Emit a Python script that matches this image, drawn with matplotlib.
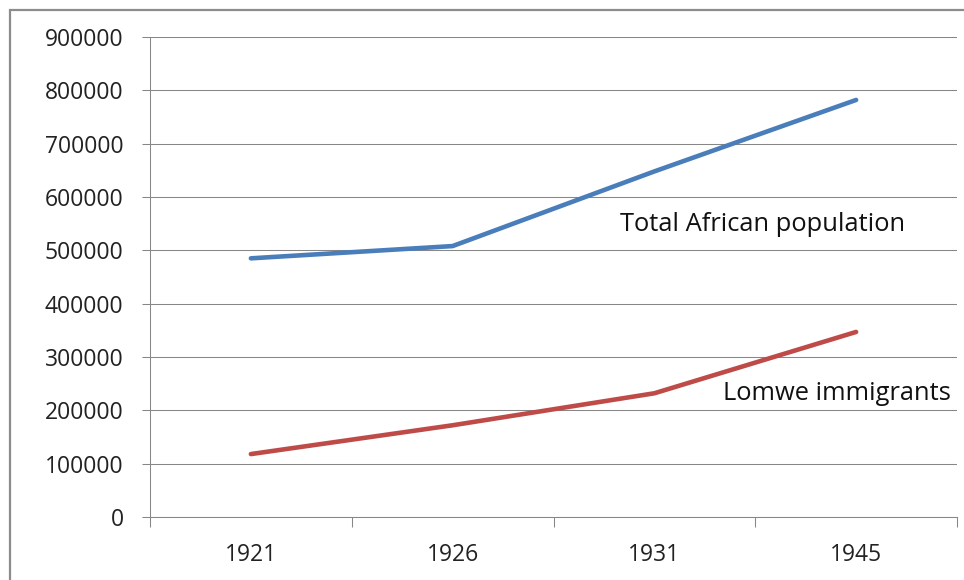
import matplotlib.pyplot as plt
from matplotlib.patches import Rectangle

# data
years = ['1921', '1926', '1931', '1945']
total_african = [485000, 508000, 648000, 782000]
lomwe_immigrants = [118000, 172000, 232000, 347000]
y_ticks = [0, 100000, 200000, 300000, 400000, 500000, 600000, 700000, 800000, 900000]

grid_col = '#878787'
plt.rcParams['font.family'] = ['Open Sans', 'DejaVu Sans']

fig = plt.figure(figsize=(9.64, 5.8), dpi=100)
ax = fig.add_axes([150 / 964, 1 - 517 / 580, 807 / 964, 480 / 580])

x = list(range(len(years)))
ax.plot(x, total_african, color='#4A7EBB', lw=3.3, solid_capstyle='round', solid_joinstyle='round')
ax.plot(x, lomwe_immigrants, color='#BE4B48', lw=3.3, solid_capstyle='round', solid_joinstyle='round')

ax.set_xlim(-0.5, len(years) - 0.5)
ax.set_ylim(0, 900000)
ax.set_yticks(y_ticks)
ax.set_yticklabels([str(v) for v in y_ticks])
ax.set_xticks(x)
ax.set_xticklabels(years)
ax.set_xticks([i - 0.5 for i in range(len(years) + 1)], minor=True)

ax.yaxis.grid(True, color=grid_col, lw=0.75)
ax.set_axisbelow(True)
for s in ['top', 'right']:
    ax.spines[s].set_visible(False)
for s in ['left', 'bottom']:
    ax.spines[s].set_color(grid_col)
    ax.spines[s].set_linewidth(0.75)

ax.tick_params(axis='y', length=6, width=0.75, color=grid_col, pad=13, labelsize=16.5, labelcolor='#222222')
ax.tick_params(axis='x', which='major', length=0, pad=19, labelsize=16.5, labelcolor='#222222')
ax.tick_params(axis='x', which='minor', length=7, width=0.75, color=grid_col)

ax.text(1.83, 549000, 'Total African population', fontsize=18.4, va='center', ha='left', color='#111111')
ax.text(2.34, 231000, 'Lomwe immigrants', fontsize=18.4, va='center', ha='left', color='#111111')

# outer chart frame (left and top edges visible)
fig.patches.append(Rectangle((10 / 964, -0.05), 1.1, 1 - 10 / 580 + 0.05, transform=fig.transFigure,
                             fill=False, edgecolor='#8c8c8c', lw=1.6, zorder=0))

fig.savefig('out.png', dpi=100)
